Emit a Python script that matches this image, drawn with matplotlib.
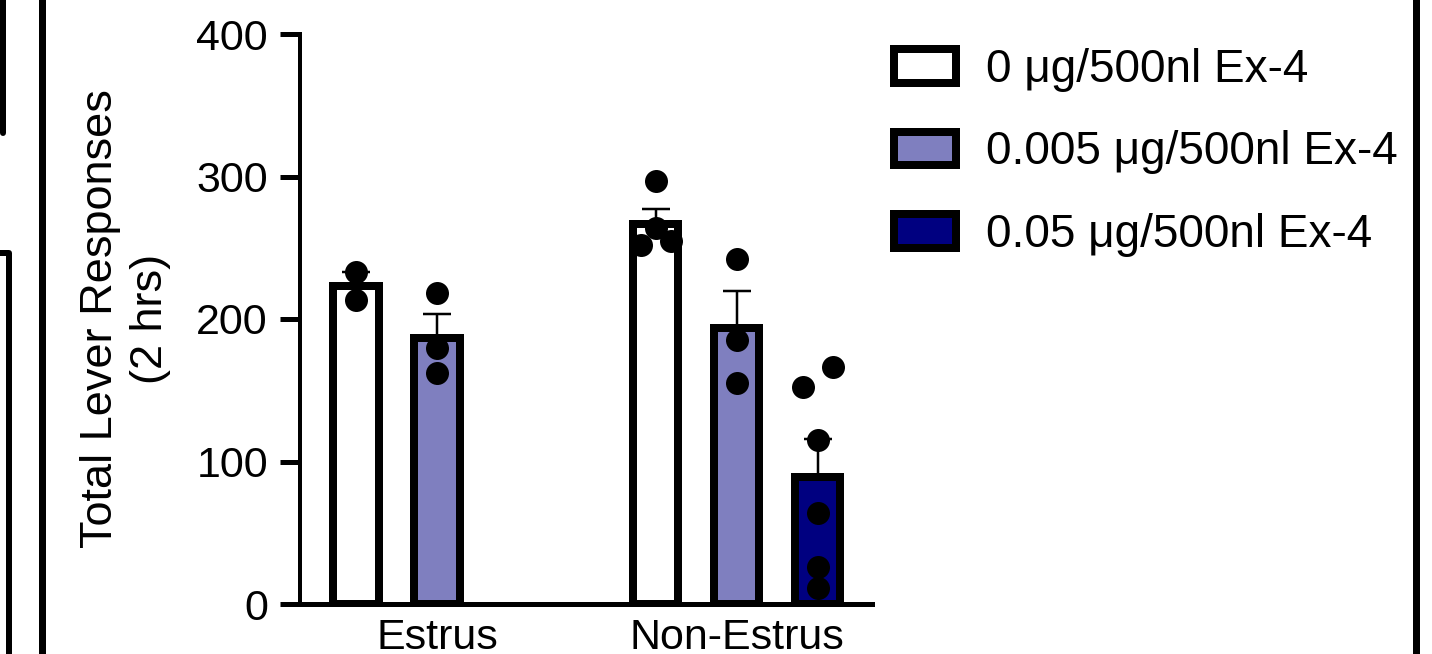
import matplotlib.pyplot as plt
import numpy as np
from matplotlib.lines import Line2D
from matplotlib.patches import Patch

plt.rcParams['font.family'] = ['Liberation Sans', 'DejaVu Sans']

groups = ["Estrus", "Non-Estrus"]
doses = ["0 \u03bcg/500nl Ex-4", "0.005 \u03bcg/500nl Ex-4", "0.05 \u03bcg/500nl Ex-4"]
dose_colors = ["white", "#7f7fbf", "#000080"]

# individual animals, per group and dose (None = not tested)
estrus_0 = [233, 213]
estrus_005 = [218, 180, 162]
nonestrus_0 = [297, 264, 252, 255]
nonestrus_005 = [242, 185, 155]
nonestrus_05 = [152, 166, 115, 64, 26, 11]

data = {
    "Estrus": [estrus_0, estrus_005, None],
    "Non-Estrus": [nonestrus_0, nonestrus_005, nonestrus_05],
}

# horizontal spread of overlapping dots (layout only)
spread = {
    ("Non-Estrus", 0): [0, 0, -1, 1],
    ("Non-Estrus", 2): [-1, 1, 0, 0, 0, 0],
}

W, H, DPI = 1432, 654, 100
fig = plt.figure(figsize=(W / DPI, H / DPI), dpi=DPI)
ax = fig.add_axes([300 / W, 1 - 604 / H, 572 / W, 570 / H])

px = 72 / DPI  # points per pixel
bar_w = 0.56
group_start = [0.0, 3.7]

for gi, g in enumerate(groups):
    for di in range(3):
        vals = data[g][di]
        if vals is None:
            continue
        vals = np.array(vals, dtype=float)
        x = group_start[gi] + di
        mean = vals.mean()
        sem = vals.std(ddof=1) / np.sqrt(len(vals))
        ax.bar(x, mean, width=bar_w, color=dose_colors[di], edgecolor="black",
               linewidth=8 * px, zorder=2)
        ax.errorbar(x, mean, yerr=[[0], [sem]], color="black", capsize=14 * px,
                    elinewidth=2.5 * px, capthick=2.5 * px, zorder=3)
        offs = np.array(spread.get((g, di), [0] * len(vals))) * 0.185
        ax.plot(x + offs, vals, "o", color="black", markersize=23 * px,
                markeredgewidth=0, zorder=4)

ax.set_ylim(0, 400)
ax.set_xlim(-0.69, 6.37)
ax.set_yticks([0, 100, 200, 300, 400])
ax.set_xticks([group_start[0] + 1, group_start[1] + 1], groups)

for s in ["top", "right"]:
    ax.spines[s].set_visible(False)
ax.spines["left"].set_linewidth(4 * px)
ax.spines["bottom"].set_linewidth(5 * px)
ax.tick_params(axis="y", length=20 * px, width=5 * px, pad=12 * px, labelsize=31)
ax.tick_params(axis="x", length=0, pad=10, labelsize=31)

ax.set_ylabel("Total Lever Responses\n(2 hrs)", fontsize=32.5, labelpad=18,
              linespacing=1.3)

handles = [Patch(facecolor=c, edgecolor="black", linewidth=8 * px) for c in dose_colors]
fig.legend(handles, doses, loc="upper left", bbox_to_anchor=(894 / W, 1 - 48 / H),
           frameon=False, fontsize=33, borderpad=0, borderaxespad=0,
           handlelength=1.35, handleheight=0.74, handletextpad=0.65,
           labelspacing=0.84)

# edges of neighbouring panels
def fline(xs, ys, lw, cap="butt"):
    fig.add_artist(Line2D(np.array(xs) / W, 1 - np.array(ys) / H, color="black",
                          linewidth=lw * px, solid_capstyle=cap,
                          solid_joinstyle="round", transform=fig.transFigure))

fline([2.5, 2.5], [-5, 133], 6, cap="round")
fline([0, 9, 9], [253, 253, 660], 6)
fline([42, 42], [-5, 660], 7)
fline([1416, 1416], [-5, 660], 7)

fig.savefig("out.png", dpi=DPI)
